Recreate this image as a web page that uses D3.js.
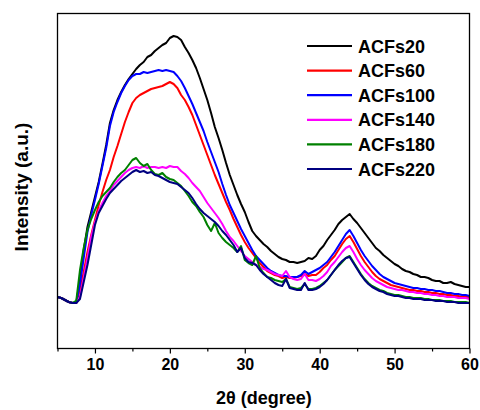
<!DOCTYPE html>
<html><head><meta charset="utf-8">
<script src="https://cdn.jsdelivr.net/npm/d3@7/dist/d3.min.js"></script>
<style>body{margin:0;background:#fff}svg{display:block}</style>
</head><body>
<script>
// 2θ sampling grid (degrees)
const twoTheta = d3.range(5, 60.001, 0.5);
const seriesNames = ["ACFs20","ACFs60","ACFs100","ACFs140","ACFs180","ACFs220"];
const seriesColors = ["#000000","#ff0000","#0000ff","#ff00ff","#008000","#000080"];
const xTicks = [10,20,30,40,50,60];

const acfs20 = [53,52,50,48,47,47,70,100,123,138,153,168,186,205,227,240,250,258,265,271,276,281,285,288,293,295,299,302,305,307,312,314,313,310,303,297,290,282,272,261,250,237,223,212,200,187,175,165,155,146,138,128,119,114,110,106,103,99,96,93,91,90,88,88,87,88,89,92,91,94,100,104,110,115,120,126,130,133,136,131,127,122,117,112,107,102,99,95,92,89,86,84,81,79,78,76,75,73,73,72,70,69,69,67,67,68,66,65,64,63,63];
const acfs60 = [53,52,50,48,47,47,60,78,98,115,130,145,158,170,180,193,204,216,228,238,247,252,255,257,259,261,262,263,264,266,268,266,262,255,250,243,235,225,215,205,195,185,175,166,157,148,140,131,123,115,108,102,97,92,87,83,79,77,75,74,72,73,72,72,73,74,76,74,75,75,78,82,85,90,94,100,106,111,114,108,101,94,88,83,78,74,71,69,67,65,64,63,62,61,60,60,59,59,58,58,57,57,56,56,55,55,54,54,53,53,53];
const acfs100 = [53,52,50,48,47,47,66,92,118,135,150,166,184,202,224,238,248,257,264,270,274,276,276,278,277,278,279,280,279,280,279,278,274,269,262,254,246,237,228,219,208,198,188,178,166,155,145,137,129,121,114,107,100,94,90,86,82,79,77,75,74,74,73,73,73,75,79,76,78,80,82,85,88,93,98,104,110,116,120,114,107,100,94,89,84,80,76,73,71,69,67,66,65,64,63,62,62,61,61,60,60,59,59,58,57,57,56,56,55,55,54];
const acfs140 = [53,52,50,48,47,47,53,72,92,113,128,139,147,154,159,165,169,173,177,180,182,183,182,184,182,183,183,182,183,182,184,183,183,179,176,172,167,163,159,153,147,142,137,132,126,119,113,109,104,99,94,91,88,85,83,81,80,78,76,75,74,79,73,71,70,71,76,70,70,69,71,74,78,84,88,93,98,102,104,98,91,85,80,76,72,69,67,65,63,62,61,60,60,59,58,58,57,57,56,56,55,55,54,54,53,53,53,52,52,52,51];
const acfs180 = [53,52,50,48,47,49,80,102,120,131,140,148,154,158,162,168,173,177,180,185,190,192,187,184,186,180,176,175,177,173,171,170,167,164,159,154,148,144,138,133,125,119,127,117,112,108,105,102,98,104,90,87,85,94,82,77,73,72,70,69,68,71,63,62,61,62,66,61,61,62,64,67,70,75,80,84,88,92,94,88,82,76,71,67,64,62,60,59,57,56,55,55,54,53,53,52,52,52,51,51,50,50,50,49,49,49,48,48,48,48,47];
const acfs220 = [53,52,50,48,47,47,51,68,85,105,125,137,144,151,157,161,165,169,172,175,178,180,178,179,177,178,175,174,172,170,168,167,166,163,160,157,152,146,141,137,134,131,128,124,119,115,110,105,98,102,92,88,87,85,80,76,73,70,67,65,64,71,62,61,60,60,67,60,60,61,63,66,70,75,80,85,89,92,93,87,81,75,70,66,63,61,59,58,56,55,54,54,53,52,52,51,51,51,50,50,50,49,49,49,48,48,48,47,47,47,47];
const seriesValues = [acfs20, acfs60, acfs100, acfs140, acfs180, acfs220];

const W = 480, H = 410;
const m = {left: 57.5, right: 469.5, top: 13.5, bottom: 348.5};
const svg = d3.select("body").append("svg").attr("width", W).attr("height", H);

const x = d3.scaleLinear().domain([5, 60]).range([m.left, m.right]);
const y = d3.scaleLinear().domain([1.5, 336.5]).range([m.bottom, m.top]);

const line = d3.line().x((d, i) => x(twoTheta[i])).y(d => y(d));

const g = svg.append("g");
seriesValues.forEach((vals, k) => {
  g.append("path").datum(vals)
    .attr("fill", "none")
    .attr("stroke", seriesColors[k])
    .attr("stroke-width", 2)
    .attr("stroke-linejoin", "round")
    .attr("d", line);
});

// frame
svg.append("rect").attr("x", m.left).attr("y", m.top)
  .attr("width", m.right - m.left).attr("height", m.bottom - m.top)
  .attr("fill", "none").attr("stroke", "#000").attr("stroke-width", 1.3);

// x axis
const xAxis = d3.axisBottom(x).tickValues(xTicks).tickSize(5).tickPadding(5).tickFormat(d3.format("d"));
const ax = svg.append("g").attr("transform", `translate(0,${m.bottom})`).call(xAxis);
ax.select(".domain").remove();
ax.selectAll(".tick line").attr("stroke-width", 1.2);
ax.selectAll("text").attr("font-family", "Liberation Sans, Arial, sans-serif")
  .attr("font-weight", "bold").attr("font-size", 16).attr("fill", "#000");
const minor = d3.axisBottom(x).tickValues([5,15,25,35,45,55]).tickSize(3).tickFormat("");
const mx = svg.append("g").attr("transform", `translate(0,${m.bottom})`).call(minor);
mx.select(".domain").remove();
mx.selectAll(".tick line").attr("stroke-width", 1.2);

svg.append("text").attr("x", (m.left + m.right) / 2 + 0.5).attr("y", 404)
  .attr("text-anchor", "middle").attr("font-family", "Liberation Sans, Arial, sans-serif")
  .attr("font-weight", "bold").attr("font-size", 18).text("2θ (degree)");

svg.append("text").attr("transform", "translate(28,187) rotate(-90)")
  .attr("text-anchor", "middle").attr("font-family", "Liberation Sans, Arial, sans-serif")
  .attr("font-weight", "bold").attr("font-size", 19).text("Intensity (a.u.)");

// legend
const lg = svg.append("g");
seriesNames.forEach((name, k) => {
  const yy = 46 + k * 24.6;
  lg.append("line").attr("x1", 307).attr("x2", 352).attr("y1", yy).attr("y2", yy)
    .attr("stroke", seriesColors[k]).attr("stroke-width", 2.2);
  lg.append("text").attr("x", 358).attr("y", yy + 6.5)
    .attr("font-family", "Liberation Sans, Arial, sans-serif")
    .attr("font-weight", "bold").attr("font-size", 18).text(name);
});
</script>
</body></html>
